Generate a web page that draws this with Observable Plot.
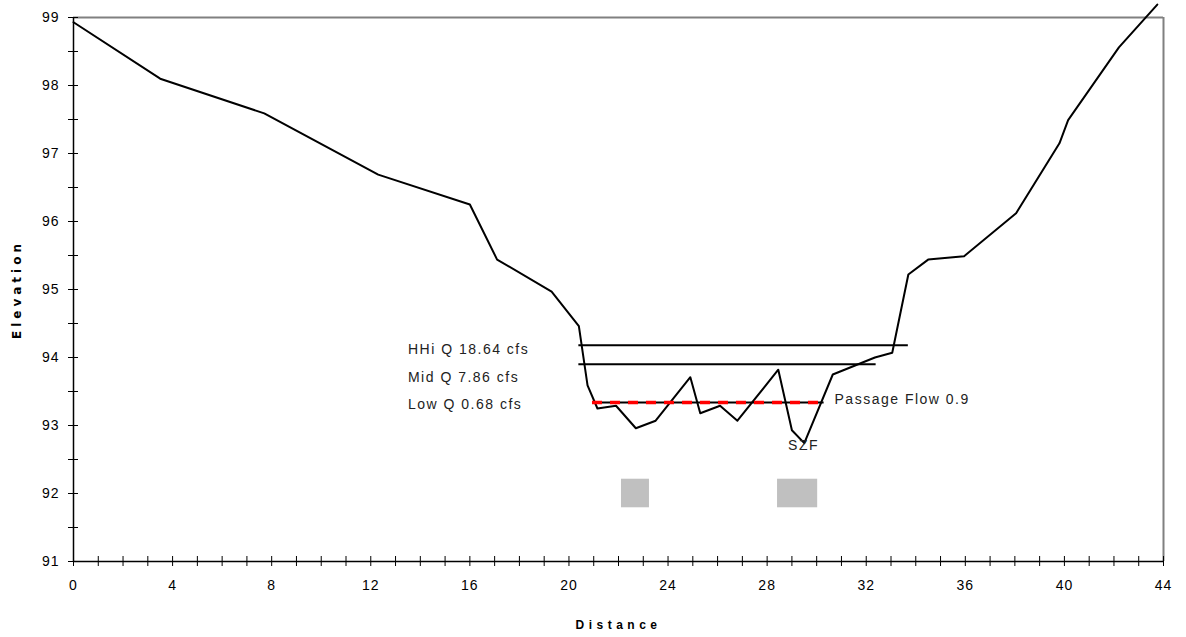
<!DOCTYPE html>
<html><head><meta charset="utf-8">
<script src="https://cdn.jsdelivr.net/npm/d3@7"></script>
<script src="https://cdn.jsdelivr.net/npm/@observablehq/plot@0.6"></script>
<style>body{margin:0;background:#fff}</style>
</head><body><div id="chart"></div>
<script>
// Cross-section profile
const profileX = [0, 3.5, 7.7, 12.3, 16.0, 17.1, 19.3, 20.4, 20.75, 21.15, 21.9, 22.7, 23.5, 24.9, 25.3, 26.1, 26.8, 28.45, 29.0, 29.5, 30.65, 32.35, 33.05, 33.7, 34.5, 35.95, 38.05, 39.8, 40.15, 42.2, 43.75];
const profileY = [98.93, 98.10, 97.59, 96.69, 96.25, 95.44, 94.97, 94.46, 93.59, 93.25, 93.29, 92.96, 93.07, 93.71, 93.18, 93.29, 93.07, 93.82, 92.93, 92.74, 93.75, 94.00, 94.07, 95.22, 95.44, 95.49, 96.12, 97.15, 97.49, 98.56, 99.19];

// Water levels
const levelLabels = ["HHi Q 18.64 cfs", "Mid Q 7.86 cfs", "Low Q 0.68 cfs"];
const levelY = [94.18, 93.90, 93.34];
const levelX1 = [20.4, 20.4, 20.95];
const levelX2 = [33.7, 32.4, 30.3];
const levelLabelX = 13.5;
const levelLabelY = [94.12, 93.71, 93.31];

// Passage flow
const passageLabel = "Passage Flow 0.9";
const passageY = 93.34;
const passageX1 = 20.95;
const passageX2 = 30.3;
const passageLabelX = 30.72;
const passageLabelY = 93.38;

const szfLabel = "SZF";
const szfX = 29.47;
const szfY = 92.71;

// Grey blocks
const blockX1 = [22.12, 28.42];
const blockX2 = [23.25, 30.04];
const blockY1 = 91.79;
const blockY2 = 92.21;

// Ticks
const xTicks = [0,1,2,3,4,5,6,7,8,9,10,11,12,13,14,15,16,17,18,19,20,21,22,23,24,25,26,27,28,29,30,31,32,33,34,35,36,37,38,39,40,41,42,43,44];
const xLabels = [0, 4, 8, 12, 16, 20, 24, 28, 32, 36, 40, 44];
const yTicks = [91, 91.5, 92, 92.5, 93, 93.5, 94, 94.5, 95, 95.5, 96, 96.5, 97, 97.5, 98, 98.5, 99];
const yLabels = [91, 92, 93, 94, 95, 96, 97, 98, 99];

const xTitle = "Distance";
const yTitle = "Elevation";

const profile = profileX.map((x, i) => ({x, y: profileY[i]}));
const levels = levelLabels.map((label, i) => ({label, y: levelY[i], x1: levelX1[i], x2: levelX2[i], ly: levelLabelY[i]}));
const blocks = blockX1.map((x1, i) => ({x1, x2: blockX2[i]}));

const chart = Plot.plot({
  width: 1186, height: 637,
  marginLeft: 73, marginRight: 23, marginTop: 17, marginBottom: 76,
  x: {domain: [0, 44], label: null},
  y: {domain: [91, 99], label: null},
  style: {fontFamily: "'Liberation Sans', Arial, sans-serif", fontSize: "14px", color: "#000", background: "#fff"},
  marks: [
    Plot.rect(blocks, {x1: "x1", x2: "x2", y1: blockY1, y2: blockY2, fill: "#c0c0c0"}),
    Plot.ruleY([99], {stroke: "#808080", strokeWidth: 2}),
    Plot.ruleX([44], {stroke: "#808080", strokeWidth: 2}),
    Plot.ruleY([91], {stroke: "#000", strokeWidth: 1.5}),
    Plot.ruleX([0], {stroke: "#000", strokeWidth: 1.5}),
    Plot.axisX({ticks: xTicks, tickSize: 10, dy: -5, tickFormat: () => "", stroke: "#000", strokeOpacity: 1}),
    Plot.axisX({ticks: xLabels, tickSize: 0, tickPadding: 19, fontSize: 14}),
    Plot.axisY({ticks: yTicks, tickSize: 10, dx: 5, tickFormat: () => "", stroke: "#000", strokeOpacity: 1}),
    Plot.axisY({ticks: yLabels, tickSize: 0, tickPadding: 14, fontSize: 14}),
    Plot.ruleY(levels, {y: "y", x1: "x1", x2: "x2", stroke: "#000", strokeWidth: 2}),
    Plot.line(profile, {x: "x", y: "y", stroke: "#000", strokeWidth: 2}),
    Plot.ruleY([passageY], {x1: passageX1, x2: passageX2, stroke: "#ff0000", strokeWidth: 3.5, strokeDasharray: "10,8"}),
    Plot.text(levels, {x: levelLabelX, y: "ly", text: "label", textAnchor: "start", fontSize: 14, fill: "#222"}),
    Plot.text([passageLabel], {x: passageLabelX, y: passageLabelY, text: d => d, textAnchor: "start", fontSize: 14, fill: "#222"}),
    Plot.text([szfLabel], {x: szfX, y: szfY, text: d => d, fontSize: 14, fill: "#222"}),
    Plot.text([xTitle], {x: 22, y: 91, dy: 64, text: d => d, fontWeight: "bold", fontSize: 12}),
    Plot.text([yTitle], {frameAnchor: "left", textAnchor: "middle", y: 95, dx: -56, rotate: -90, text: d => d, fontWeight: "bold", fontSize: 12, fontFamily: "'DejaVu Sans', sans-serif"})
  ]
});

const spacing = ["1.5px", "1.5px", "1.5px", "4.5px", "4px"];
chart.querySelectorAll('g[aria-label="text"]').forEach((g, i) => {
  g.setAttribute("letter-spacing", spacing[i] || "0px");
});
chart.querySelectorAll('g[aria-label="x-axis tick label"], g[aria-label="y-axis tick label"]').forEach(g => g.setAttribute("letter-spacing", "1px"));

document.getElementById("chart").appendChild(chart);
</script>
</body></html>
